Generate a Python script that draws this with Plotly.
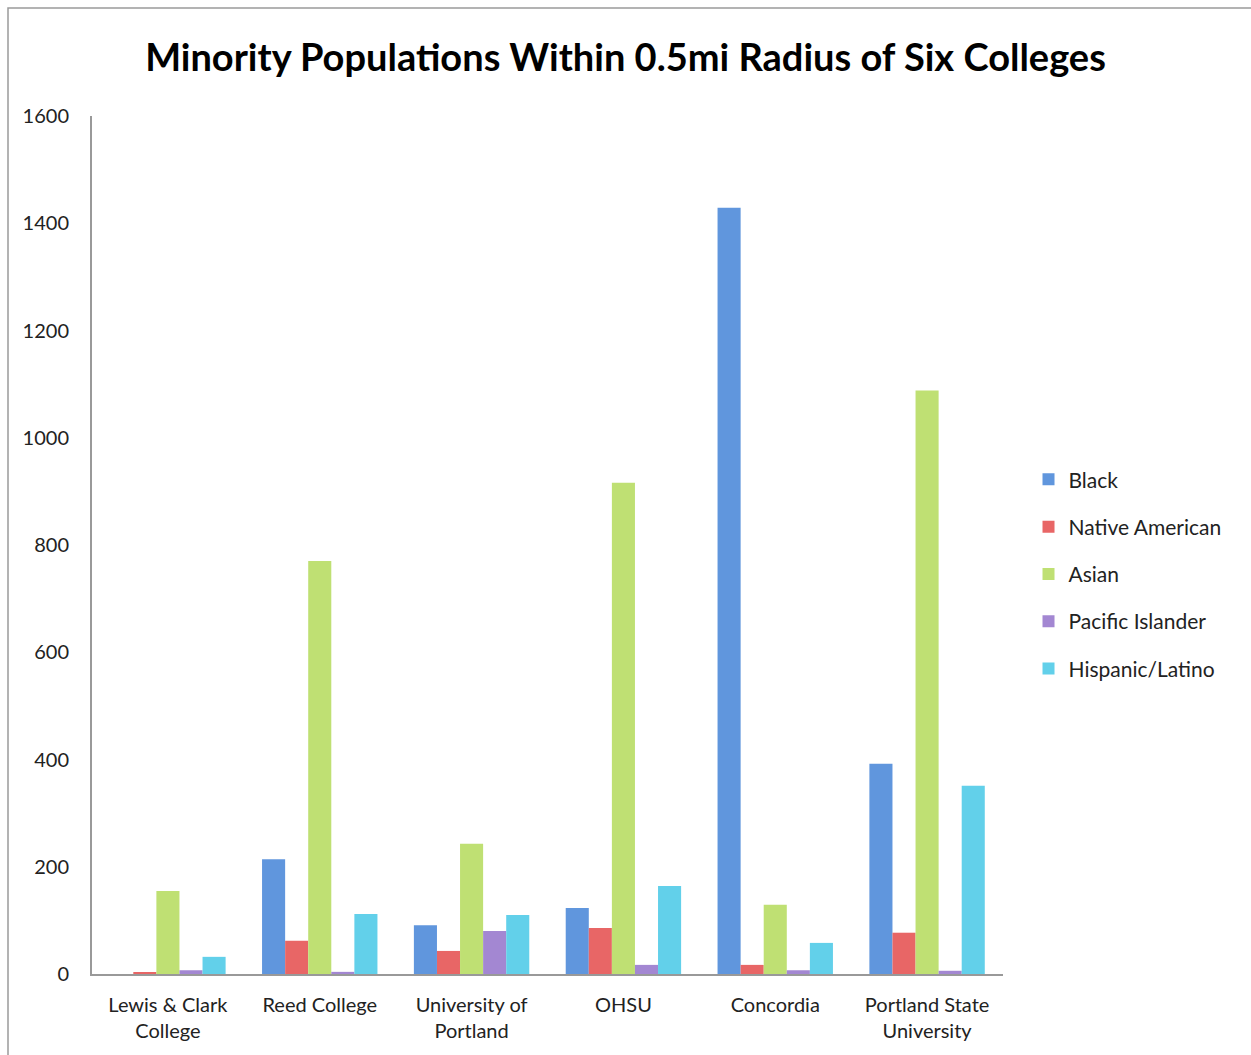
import plotly.graph_objects as go

colleges = ["Lewis & Clark<br>College", "Reed College", "University of<br>Portland",
            "OHSU", "Concordia", "Portland State<br>University"]
black = [0, 214, 91, 123, 1429, 392]
native_american = [2, 62, 43, 86, 17, 77]
asian = [155, 770, 243, 916, 129, 1088]
pacific_islander = [7, 4, 80, 17, 7, 6]
hispanic_latino = [32, 112, 110, 164, 58, 351]

series = [
    ("Black", black, "#6096dd"),
    ("Native American", native_american, "#e86666"),
    ("Asian", asian, "#bfe073"),
    ("Pacific Islander", pacific_islander, "#a387d2"),
    ("Hispanic/Latino", hispanic_latino, "#62d0ea"),
]

fig = go.Figure()
for i, (name, vals, col) in enumerate(series):
    fig.add_trace(go.Bar(
        x=colleges, y=vals, name=name,
        marker=dict(color=col, line=dict(width=0)),
        legendgroup=f"g{i}",
    ))

fig.update_layout(
    width=1251, height=1055,
    margin=dict(l=92, r=248, t=116, b=81),
    paper_bgcolor="white", plot_bgcolor="white",
    barmode="group", bargap=0.24, bargroupgap=0.0,
    font=dict(family="Lato, Open Sans, sans-serif", color="#222", size=20),
    title=dict(text="<b>Minority Populations Within 0.5mi Radius of Six Colleges</b>",
               x=0.5, xref="container", xanchor="center",
               y=1 - 58 / 1055, yref="container", yanchor="middle",
               font=dict(size=38, color="black", family="Lato, Open Sans, sans-serif")),
    legend=dict(x=1.028, xanchor="left", y=0.60, yanchor="top",
                traceorder="grouped", tracegroupgap=17,
                font=dict(size=21, color="#222"), itemwidth=30),
    showlegend=True,
)
fig.update_xaxes(showline=True, linecolor="#999999", linewidth=2, ticks="",
                 showgrid=False, ticklabelstandoff=12, tickfont=dict(size=20, color="#222"))
fig.update_yaxes(range=[0, 1600], dtick=200, showline=True, linecolor="#999999", linewidth=2,
                 ticks="", showgrid=False, zeroline=False, ticklabelstandoff=17,
                 tickfont=dict(size=20, color="#222"))

fig.add_shape(type="rect", xref="paper", yref="paper",
              x0=(8 - 92) / 911, x1=(1300 - 92) / 911,
              y0=(974 - 1100) / 858, y1=(974 - 8) / 858,
              line=dict(color="#9a9a9a", width=1.5), layer="below")

fig.write_html("out.html")
